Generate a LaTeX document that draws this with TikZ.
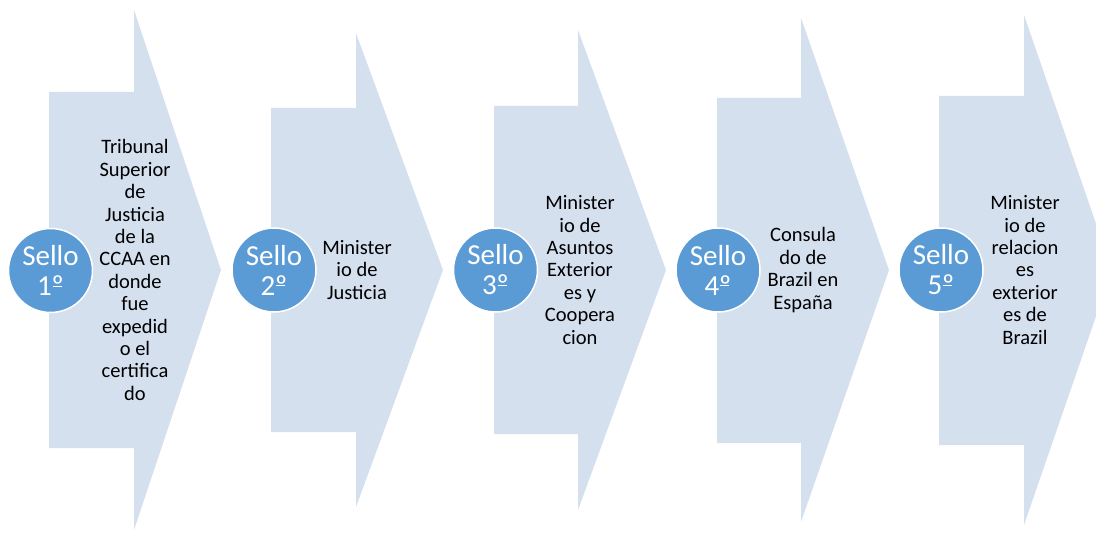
\documentclass[tikz,border=0pt]{standalone}
\usepackage{fontspec}
\setmainfont{Carlito}
\definecolor{arrowfill}{HTML}{D5E0EF}
\definecolor{sealfill}{HTML}{5B9BD5}
\newcommand{\ordmark}{\makebox[0pt][l]{\hspace{0.04em}\raisebox{0.30em}{\rule{0.30em}{0.045em}}}º}
\tikzset{
  arrowshape/.style={fill=arrowfill, draw=none},
  seal/.style={circle, fill=sealfill, draw=white, line width=1.5bp, minimum size=84bp, inner sep=0pt,
    text=white, font=\fontsize{29bp}{30bp}\selectfont, align=center},
  label/.style={align=center, text=black, font=\fontsize{20.5bp}{22.4bp}\selectfont, inner sep=0pt}
}
\newcommand{\chevarrow}[7]{%
  \fill[arrowshape] (#1,-#2) -- (#4,-#2) -- (#4,-#5) -- (#7,-270) -- (#4,-#6) -- (#4,-#3) -- (#1,-#3) -- cycle;}
\begin{document}
\begin{tikzpicture}[x=1bp,y=1bp]
\useasboundingbox (0,0) rectangle (1096,-539);
\clip (0,0) rectangle (1096,-539);
\chevarrow{49}{92}{448}{134}{10}{530}{221}
\chevarrow{271}{108}{432}{356}{33}{507}{443}
\chevarrow{494}{106}{434}{578}{30}{510}{666}
\chevarrow{717}{98}{443}{801}{18}{522}{889}
\chevarrow{939}{96}{445}{1024}{15}{525}{1112}

\node[seal] (s1) at (50.5,-270.5) {Sello\\1\ordmark};
\node[seal] (s2) at (274,-270) {Sello\\2\ordmark};
\node[seal] (s3) at (495.5,-270) {Sello\\3\ordmark};
\node[seal] (s4) at (718,-270) {Sello\\4\ordmark};
\node[seal] (s5) at (941,-270) {Sello\\5\ordmark};

\node[label] (t1) at (135,-270) {Tribunal\\Superior\\de\\Justicia\\de la\\CCAA en\\donde\\fue\\expedid\\o el\\certifica\\do};
\node[label] (t2) at (357,-270) {Minister\\io de\\Justicia};
\node[label] (t3) at (580,-270) {Minister\\io de\\Asuntos\\Exterior\\es y\\Coopera\\cion};
\node[label] (t4) at (803,-270) {Consula\\do de\\Brazil en\\España};
\node[label] (t5) at (1025,-270) {Minister\\io de\\relacion\\es\\exterior\\es de\\Brazil};
\end{tikzpicture}
\end{document}
